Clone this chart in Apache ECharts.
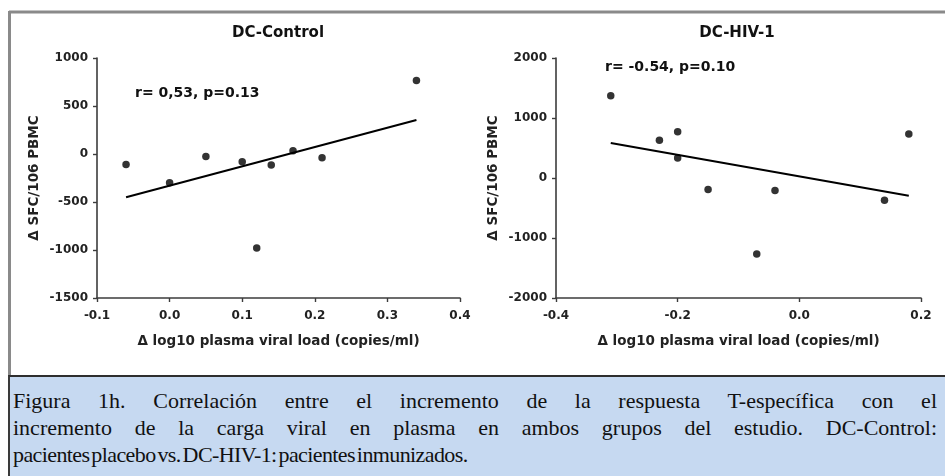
<!DOCTYPE html>
<html>
<head>
<meta charset="utf-8">
<script src="https://cdn.jsdelivr.net/npm/echarts@6/dist/echarts.min.js"></script>
<style>
  html, body { margin: 0; padding: 0; background: #fff; }
  #wrap { position: relative; width: 945px; height: 476px; overflow: hidden; }
  #chart { position: absolute; left: 0; top: 0; width: 945px; height: 476px; }
  #caption {
    position: absolute; left: 8px; top: 375px; width: 937px; height: 101px;
    background: #c6d9f1; border-left: 2px solid #3a3a3a; border-top: 2px solid #2e2e2e;
    box-sizing: border-box; padding: 10px 8px 0 3px;
    font-family: "Liberation Serif", "Times New Roman", serif; font-size: 22px; color: #111;
    line-height: 27px;
  }
  #caption .j { text-align: justify; text-align-last: justify; }
  #caption .l { text-align: left; word-spacing: -3px; letter-spacing: -0.6px; }
</style>
</head>
<body>
<div id="wrap">
  <div id="chart"></div>
  <div id="caption">
    <div class="j">Figura 1h. Correlación entre el incremento de la respuesta T-específica con el</div>
    <div class="j">incremento de la carga viral en plasma en ambos grupos del estudio. DC-Control:</div>
    <div class="l">pacientes placebo vs. DC-HIV-1: pacientes inmunizados.</div>
  </div>
</div>
<script>
// DC-Control group: change in viral load vs change in SFC/10^6 PBMC
const ctrlX = [-0.06, 0.00, 0.05, 0.10, 0.12, 0.14, 0.17, 0.21, 0.34];
const ctrlY = [-110, -300, -25, -80, -980, -115, 35, -38, 765];
// fitted regression line end points
const ctrlFitX = [-0.06, 0.34];
const ctrlFitY = [-450, 355];

// DC-HIV-1 group
const hivX = [-0.31, -0.23, -0.20, -0.20, -0.15, -0.07, -0.04, 0.14, 0.18];
const hivY = [1370, 630, 770, 335, -190, -1265, -210, -370, 735];
const hivFitX = [-0.31, 0.18];
const hivFitY = [585, -295];

// axis ticks
const ctrlXTicks = [-0.1, 0.0, 0.1, 0.2, 0.3, 0.4];
const ctrlYTicks = [-1500, -1000, -500, 0, 500, 1000];
const hivXTicks = [-0.4, -0.2, 0.0, 0.2];
const hivYTicks = [-2000, -1000, 0, 1000, 2000];

const titles = ['DC-Control', 'DC-HIV-1'];
const stats = ['r= 0,53, p=0.13', 'r= -0.54, p=0.10'];
const xName = 'Δ log10 plasma viral load (copies/ml)';
const yName = 'Δ SFC/106 PBMC';

const sansFont = '"DejaVu Sans", Arial, sans-serif';
const axisColor = '#3c3c3c';

const zip = (xs, ys) => xs.map((x, i) => [x, ys[i]]);

function fmtX(v) {
  return Math.abs(v) < 1e-9 ? '0.0' : v.toFixed(1);
}
function fmtY(v) {
  return String(Math.round(v));
}

function xAxisFor(ticks, gridIndex) {
  return {
    type: 'value', gridIndex,
    min: ticks[0], max: ticks[ticks.length - 1], interval: ticks[1] - ticks[0],
    name: xName, nameLocation: 'middle', nameGap: 36,
    nameTextStyle: { fontFamily: sansFont, fontWeight: 'bold', fontSize: 13.5, color: '#222' },
    axisLine: { onZero: false, lineStyle: { color: axisColor, width: 1.6 } },
    axisTick: { show: true, length: 4, lineStyle: { color: axisColor, width: 1.4 } },
    axisLabel: { formatter: fmtX, margin: 12, fontFamily: sansFont, fontWeight: 'bold', fontSize: 12, color: '#222' },
    splitLine: { show: false }
  };
}

function yAxisFor(ticks, gridIndex) {
  return {
    type: 'value', gridIndex,
    min: ticks[0], max: ticks[ticks.length - 1], interval: ticks[1] - ticks[0],
    name: yName, nameLocation: 'middle', nameGap: 56, nameRotate: 90,
    nameTextStyle: { fontFamily: sansFont, fontWeight: 'bold', fontSize: 13.5, color: '#222' },
    axisLine: { show: true, onZero: false, lineStyle: { color: axisColor, width: 1.6 } },
    axisTick: { show: true, length: 4, lineStyle: { color: axisColor, width: 1.4 } },
    axisLabel: { formatter: fmtY, margin: 9, fontFamily: sansFont, fontWeight: 'bold', fontSize: 12, color: '#222' },
    splitLine: { show: false }
  };
}

function scatterSeries(xs, ys, idx) {
  return {
    type: 'scatter', xAxisIndex: idx, yAxisIndex: idx,
    data: zip(xs, ys), symbol: 'circle', symbolSize: 7.5,
    itemStyle: { color: '#000' }, z: 3
  };
}

function fitSeries(xs, ys, idx) {
  return {
    type: 'line', xAxisIndex: idx, yAxisIndex: idx,
    data: zip(xs, ys), symbol: 'none',
    lineStyle: { color: '#000', width: 2 }, z: 2
  };
}

const chart = echarts.init(document.getElementById('chart'), null, { renderer: 'canvas' });

chart.setOption({
  animation: false,
  backgroundColor: '#fff',
  title: [
    { text: titles[0], left: 273, top: 21, textAlign: 'center',
      textStyle: { fontFamily: sansFont, fontWeight: 'bold', fontSize: 15, color: '#111' } },
    { text: titles[1], left: 732, top: 21, textAlign: 'center',
      textStyle: { fontFamily: sansFont, fontWeight: 'bold', fontSize: 15, color: '#111' } }
  ],
  grid: [
    { left: 97, right: 485, top: 58, bottom: 178 },
    { left: 556, right: 24, top: 58, bottom: 178 }
  ],
  xAxis: [xAxisFor(ctrlXTicks, 0), xAxisFor(hivXTicks, 1)],
  yAxis: [yAxisFor(ctrlYTicks, 0), yAxisFor(hivYTicks, 1)],
  series: [
    scatterSeries(ctrlX, ctrlY, 0),
    fitSeries(ctrlFitX, ctrlFitY, 0),
    scatterSeries(hivX, hivY, 1),
    fitSeries(hivFitX, hivFitY, 1)
  ],
  graphic: [
    // figure frame
    { type: 'line', shape: { x1: 9, y1: 12, x2: 945, y2: 12 }, style: { stroke: '#8a8a8a', lineWidth: 3 } },
    { type: 'line', shape: { x1: 9.5, y1: 11, x2: 9.5, y2: 376 }, style: { stroke: '#8a8a8a', lineWidth: 3 } },
    // correlation statistics
    { type: 'text', left: 135, top: 86,
      style: { text: stats[0], fontFamily: sansFont, fontWeight: 'bold', fontSize: 14, fill: '#111' } },
    { type: 'text', left: 605, top: 60,
      style: { text: stats[1], fontFamily: sansFont, fontWeight: 'bold', fontSize: 14, fill: '#111' } }
  ]
});
</script>
</body>
</html>
